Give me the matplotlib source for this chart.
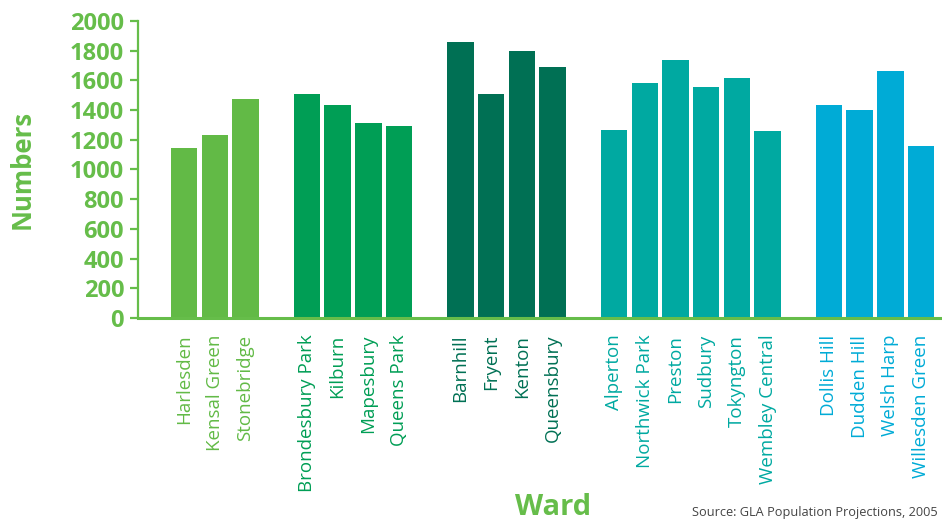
import matplotlib
matplotlib.use('Agg')
import matplotlib.pyplot as plt

# Population by ward, grouped by area
groups = [
    ['Harlesden', 'Kensal Green', 'Stonebridge'],
    ['Brondesbury Park', 'Kilburn', 'Mapesbury', 'Queens Park'],
    ['Barnhill', 'Fryent', 'Kenton', 'Queensbury'],
    ['Alperton', 'Northwick Park', 'Preston', 'Sudbury', 'Tokyngton', 'Wembley Central'],
    ['Dollis Hill', 'Dudden Hill', 'Welsh Harp', 'Willesden Green'],
]
values = [
    [1142, 1230, 1473],
    [1507, 1433, 1311, 1291],
    [1859, 1507, 1798, 1690],
    [1264, 1582, 1737, 1555, 1616, 1257],
    [1433, 1399, 1663, 1156],
]
group_colors = ['#62BA46', '#009E55', '#007054', '#00A9A1', '#00ABD6']
axis_green = '#66BD4A'

plt.rcParams['font.family'] = ['Open Sans', 'DejaVu Sans']

fig = plt.figure(figsize=(9.42, 5.22), dpi=100)
ax = fig.add_axes([0.1465, 0.3908, 0.8525, 0.569])

xs, labels, label_colors = [], [], []
pos = 0
for names, vals, col in zip(groups, values, group_colors):
    for name, v in zip(names, vals):
        ax.bar(pos, v, width=0.86, color=col)
        xs.append(pos)
        labels.append(name)
        label_colors.append(col)
        pos += 1
    pos += 1  # blank slot between groups

ax.set_xlim(-1.5, xs[-1] + 0.65)
ax.set_ylim(0, 2000)
ax.set_yticks(range(0, 2001, 200))

for side in ['top', 'right']:
    ax.spines[side].set_visible(False)
ax.spines['left'].set_color(axis_green)
ax.spines['left'].set_linewidth(1.6)
ax.spines['bottom'].set_color(axis_green)
ax.spines['bottom'].set_linewidth(2.2)

ax.tick_params(axis='y', colors=axis_green, length=6, width=1.6, pad=4)
for t in ax.get_yticklabels():
    t.set_fontsize(17)
    t.set_fontweight('bold')

ax.set_xticks(xs)
ax.set_xticklabels(labels, rotation=90, fontsize=13.5, va='top', ha='center')
ax.tick_params(axis='x', length=0, pad=12)
for t, c in zip(ax.get_xticklabels(), label_colors):
    t.set_color(c)

ax.set_ylabel('Numbers', fontsize=18.5, fontweight='bold', color=axis_green, labelpad=25)
fig.text(0.587, 0.028, 'Ward', fontsize=21, fontweight='bold', color=axis_green,
         ha='center', va='center')
fig.text(0.995, 0.018, 'Source: GLA Population Projections, 2005', fontsize=9.2,
         color='#444444', ha='right', va='center')

fig.savefig('out.png', dpi=100, facecolor='white')
